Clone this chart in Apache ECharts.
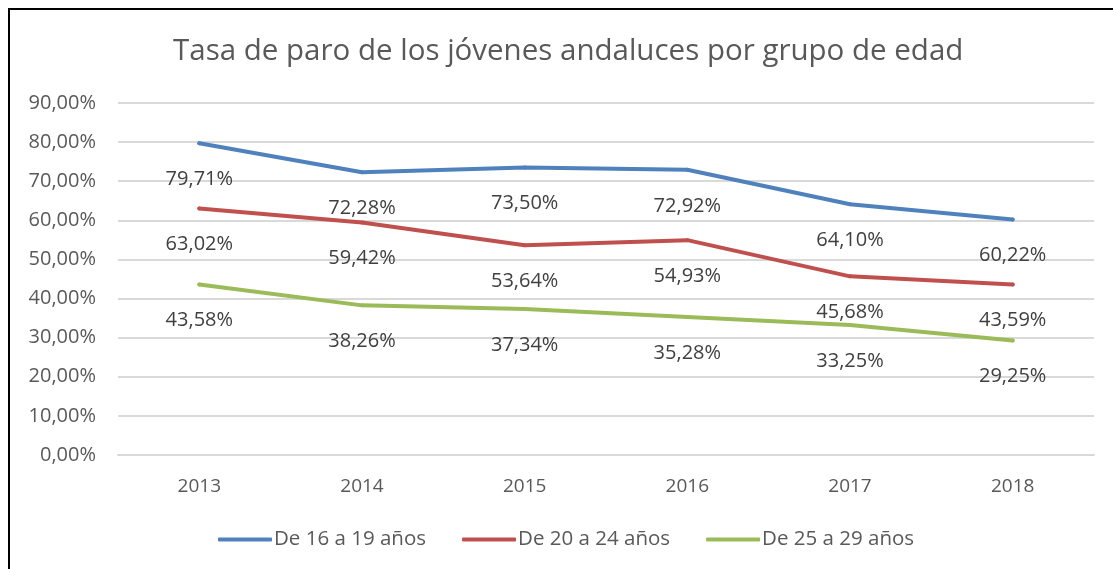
<!DOCTYPE html>
<html><head><meta charset="utf-8">
<script src="https://cdn.jsdelivr.net/npm/echarts@6/dist/echarts.min.js"></script>
<style>html,body{margin:0;padding:0;background:#fff}#c{width:1113px;height:569px;position:relative}
#frame{position:absolute;left:8px;top:8px;width:1200px;height:700px;border:2px solid #000;box-sizing:border-box;pointer-events:none}</style>
</head><body><div id="c"></div><div id="frame"></div>
<script>
const categories = ['2013','2014','2015','2016','2017','2018'];
const s1619 = [79.71, 72.28, 73.50, 72.92, 64.10, 60.22];
const s2024 = [63.02, 59.42, 53.64, 54.93, 45.68, 43.59];
const s2529 = [43.58, 38.26, 37.34, 35.28, 33.25, 29.25];
const seriesNames = ['De 16 a 19 años','De 20 a 24 años','De 25 a 29 años'];
const colors = ['#4F81BD','#C0504D','#9BBB59'];
const font = 'Open Sans';
const fmt = v => v.toFixed(2).replace('.', ',') + '%';
const chart = echarts.init(document.getElementById('c'));
const mk = (name, data, color) => ({
  name, type:'line', data, symbol:'circle', symbolSize:4, showSymbol:true,
  lineStyle:{width:4,color,cap:'round'}, itemStyle:{color},
  label:{show:true, position:'bottom', distance:24, formatter:p=>fmt(p.value), color:'#404040', fontSize:20, fontFamily:font},
  emphasis:{disabled:true}
});
chart.setOption({
  animation:false,
  color: colors,
  title:{text:'Tasa de paro de los jóvenes andaluces por grupo de edad', left:168, top:32,
    textStyle:{fontFamily:font, fontSize:29.5, fontWeight:'normal', color:'#595959'}},
  grid:{left:118, right:19, top:103, bottom:114},
  legend:{bottom:14, left:213, itemWidth:54, itemHeight:4, itemGap:36, icon:'roundRect',
    textStyle:{fontFamily:font, fontSize:20.5, color:'#595959', padding:[0,0,0,-3]}},
  xAxis:{type:'category', data:categories, boundaryGap:true,
    axisLine:{show:true, lineStyle:{color:'#D9D9D9', width:2}}, axisTick:{show:false},
    axisLabel:{fontFamily:font, fontSize:19, color:'#595959', margin:22}},
  yAxis:{type:'value', min:0, max:90, interval:10,
    axisLabel:{formatter:v=>v.toFixed(2).replace('.', ',')+'%', fontFamily:font, fontSize:20, color:'#595959', margin:22},
    splitLine:{lineStyle:{color:'#D9D9D9', width:2}}, axisLine:{show:false}, axisTick:{show:false}},
  series:[mk(seriesNames[0], s1619, colors[0]), mk(seriesNames[1], s2024, colors[1]), mk(seriesNames[2], s2529, colors[2])]
});
</script></body></html>
